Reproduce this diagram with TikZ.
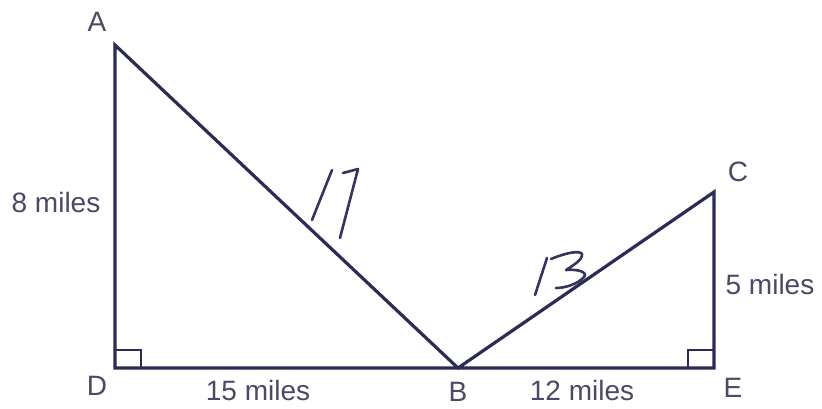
\documentclass[tikz,border=0pt]{standalone}
\usepackage{fontspec}
\setmainfont{Liberation Sans}
\begin{document}
\begin{tikzpicture}[x=1pt,y=-1pt,
  seg/.style={draw=linec,line width=3.2pt,line join=miter},
  rmark/.style={draw=linec,line width=2.4pt},
  lbl/.style={text=txtc,font=\fontsize{28}{30}\selectfont,inner sep=0pt},
  hand/.style={draw=handc,line width=2.6pt,line cap=round,line join=round}]
\definecolor{linec}{HTML}{2B2B55}
\definecolor{txtc}{HTML}{4A4A66}
\definecolor{handc}{HTML}{34345E}
\useasboundingbox (0,0) rectangle (822,408);
\fill[white] (0,0) rectangle (822,408);
\coordinate (A) at (115,45);
\coordinate (D) at (115,368);
\coordinate (B) at (458,368);
\coordinate (E) at (714,368);
\coordinate (C) at (714,192);
% triangles
\draw[seg] (A) -- (D) -- (E) -- (C) -- (B) -- cycle;
% right angle marks
\draw[rmark] ([yshift=18pt]D) -| ([xshift=26pt]D);
\draw[rmark] ([yshift=18pt]E) -| ([xshift=-26pt]E);
% vertex labels
\node[lbl] (lA) at (97,22) {A};
\node[lbl] (lD) at (97,386) {D};
\node[lbl] (lB) at (458,392) {B};
\node[lbl] (lE) at (733,388) {E};
\node[lbl] (lC) at (738,172) {C};
% side labels
\node[lbl] (l8) at (56,202) {8 miles};
\node[lbl] (l15) at (258,390) {15 miles};
\node[lbl] (l12) at (582,390) {12 miles};
\node[lbl] (l5) at (770,284) {5 miles};
% handwritten 17
\draw[hand] (312,220) -- (332,170);
\draw[hand] (343,173) -- (358,169) -- (340,238);
% handwritten 13
\draw[hand] (535,295) -- (547,258);
\draw[hand] (551,259) .. controls (565,253) and (580,250) .. (582,254)
  .. controls (583,260) and (572,266) .. (566,270)
  .. controls (578,269) and (588,272) .. (584,277)
  .. controls (578,284) and (565,288) .. (556,288);
\end{tikzpicture}
\end{document}
